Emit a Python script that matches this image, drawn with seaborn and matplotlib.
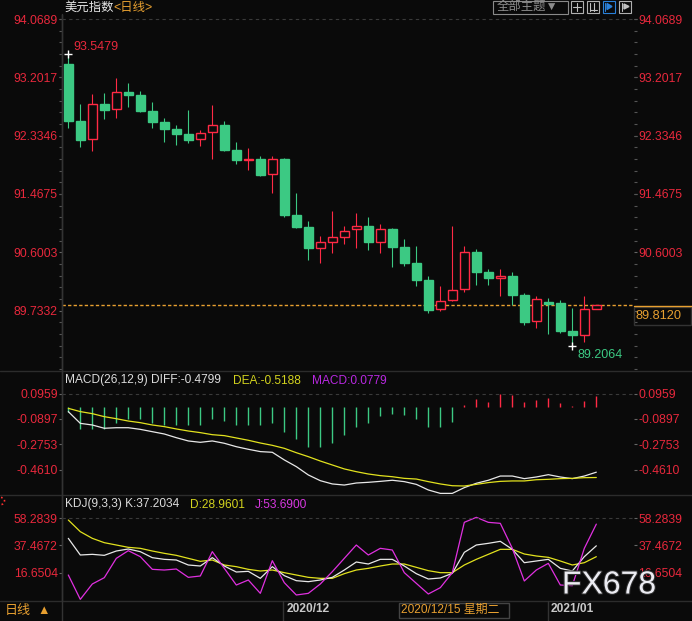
import numpy as np
import pandas as pd
import matplotlib
matplotlib.use('Agg')
import matplotlib.pyplot as plt
import seaborn as sns
from matplotlib.ticker import FixedLocator
from matplotlib.patches import Rectangle, Circle, Polygon
import matplotlib.patheffects as pe

### Data ###
opens = [93.400, 92.552, 92.280, 92.805, 92.726, 92.983, 92.939, 92.701, 92.537, 92.433,
         92.359, 92.280, 92.384, 92.493, 92.121, 91.977, 91.987, 91.759, 91.987, 91.154,
         90.976, 90.669, 90.758, 90.832, 90.941, 90.991, 90.758, 90.946, 90.679, 90.441,
         90.188, 89.752, 89.886, 90.049, 90.599, 90.307, 90.223, 90.247, 89.965, 89.573,
         89.861, 89.846, 89.430, 89.365, 89.761]
closes = [92.557, 92.275, 92.800, 92.721, 92.983, 92.944, 92.706, 92.542, 92.438, 92.364,
          92.275, 92.369, 92.488, 92.121, 91.977, 91.987, 91.754, 91.982, 91.159, 90.981,
          90.669, 90.748, 90.827, 90.912, 90.986, 90.758, 90.941, 90.684, 90.446, 90.193,
          89.747, 89.871, 90.034, 90.599, 90.312, 90.223, 90.243, 89.970, 89.568, 89.900,
          89.836, 89.435, 89.365, 89.752, 89.812]
highs = [93.5479, 92.805, 92.954, 92.974, 93.192, 93.117, 92.998, 92.835, 92.597, 92.493,
         92.716, 92.418, 92.790, 92.552, 92.235, 92.151, 92.032, 92.032, 92.002, 91.482,
         91.065, 90.842, 91.214, 90.991, 91.184, 91.125, 91.021, 90.961, 90.797, 90.694,
         90.247, 90.099, 90.991, 90.694, 90.649, 90.352, 90.352, 90.307, 89.995, 89.950,
         89.920, 89.891, 89.777, 89.950, 89.815]
lows = [92.453, 92.171, 92.111, 92.587, 92.602, 92.765, 92.691, 92.453, 92.245, 92.200,
        92.230, 92.185, 91.992, 92.106, 91.918, 91.829, 91.739, 91.487, 91.130, 90.966,
        90.490, 90.446, 90.594, 90.728, 90.669, 90.639, 90.594, 90.386, 90.401, 90.104,
        89.702, 89.732, 89.881, 90.014, 90.119, 90.119, 89.955, 89.821, 89.524, 89.479,
        89.390, 89.395, 89.2064, 89.271, 89.761]

diff = [-0.036, -0.122, -0.134, -0.158, -0.154, -0.154, -0.166, -0.183, -0.200, -0.227,
        -0.251, -0.261, -0.251, -0.268, -0.293, -0.312, -0.329, -0.334, -0.390, -0.439,
        -0.500, -0.542, -0.566, -0.574, -0.559, -0.554, -0.547, -0.539, -0.549, -0.569,
        -0.610, -0.635, -0.635, -0.593, -0.561, -0.539, -0.508, -0.508, -0.527, -0.515,
        -0.498, -0.515, -0.527, -0.508, -0.4799]
dea = [-0.012, -0.036, -0.051, -0.073, -0.088, -0.105, -0.117, -0.134, -0.146, -0.163,
       -0.178, -0.190, -0.205, -0.212, -0.229, -0.246, -0.266, -0.283, -0.305, -0.337,
       -0.366, -0.398, -0.427, -0.456, -0.476, -0.493, -0.505, -0.513, -0.525, -0.530,
       -0.549, -0.566, -0.579, -0.581, -0.569, -0.556, -0.547, -0.544, -0.544, -0.535,
       -0.532, -0.527, -0.525, -0.520, -0.5188]
macd_hist = [-0.039, -0.161, -0.161, -0.161, -0.117, -0.088, -0.088, -0.117, -0.132, -0.137,
             -0.137, -0.137, -0.088, -0.105, -0.137, -0.137, -0.137, -0.117, -0.186, -0.234,
             -0.295, -0.295, -0.264, -0.205, -0.149, -0.117, -0.068, -0.054, -0.063, -0.088,
             -0.149, -0.149, -0.112, 0.010, 0.059, 0.034, 0.090, 0.083, 0.034, 0.051,
             0.063, 0.027, 0.005, 0.042, 0.0779]

k_vals = [42.88, 30.23, 30.73, 29.97, 33.26, 34.78, 32.76, 28.20, 26.93, 26.43,
          22.63, 21.87, 28.20, 21.87, 17.31, 17.82, 12.50, 21.37, 14.53, 10.73,
          9.97, 11.24, 13.26, 18.83, 24.91, 23.39, 26.93, 26.93, 21.87, 16.05,
          12.00, 12.76, 16.30, 32.25, 37.82, 39.09, 40.61, 34.53, 24.40, 25.67,
          26.93, 20.10, 18.07, 28.96, 37.2034]
d_vals = [56.81, 47.95, 42.88, 39.59, 37.82, 36.05, 35.29, 33.26, 31.49, 29.97,
          27.69, 25.42, 26.43, 22.63, 21.37, 19.34, 18.07, 18.83, 16.81, 15.04,
          13.26, 12.50, 12.50, 16.05, 18.83, 20.10, 21.87, 23.39, 23.39, 20.86,
          18.33, 16.81, 16.81, 22.63, 26.93, 30.73, 34.53, 34.53, 30.99, 29.47,
          28.45, 25.67, 22.63, 24.40, 28.9601]
j_vals = [15.04, -3.45, 8.20, 13.01, 27.69, 33.52, 28.96, 19.34, 18.83, 19.59,
          13.26, 14.28, 32.76, 20.10, 7.44, 11.24, 1.11, 25.92, 9.21, -0.15,
          1.11, 8.20, 17.57, 27.69, 37.82, 30.23, 35.29, 34.02, 16.81, 8.71,
          0.61, 5.42, 16.81, 55.04, 58.83, 55.04, 54.28, 35.29, 10.48, 18.83,
          23.90, 7.44, 6.93, 35.29, 53.69]

price_ticks = [94.0689, 93.2017, 92.3346, 91.4675, 90.6003, 89.7332]
price_labels = ['94.0689', '93.2017', '92.3346', '91.4675', '90.6003', '89.7332']
macd_ticks = [0.0959, -0.0897, -0.2753, -0.4610]
macd_labels = ['0.0959', '-0.0897', '-0.2753', '-0.4610']
kdj_ticks = [58.2839, 37.4672, 16.6504]
kdj_labels = ['58.2839', '37.4672', '16.6504']

### Style ###
W, H = 692, 621
bg = '#0a0a0a'
red = '#ff2a45'
green = '#3cc983'
lab_red = '#e8283c'
orange = '#e8a030'
grid_c = '#3a3a3a'

sns.set_theme(style='dark', rc={'axes.facecolor': bg, 'figure.facecolor': bg})
plt.rcParams['font.family'] = ['Liberation Sans', 'Noto Sans CJK SC']
plt.rcParams['axes.unicode_minus'] = False
fs = 8.6

fig = plt.figure(figsize=(W / 100, H / 100), dpi=100)


def rect(top, bottom):
    return [62 / W, 1 - bottom / H, 572 / W, (bottom - top) / H]


ax1 = fig.add_axes(rect(15, 370))
ax2 = fig.add_axes(rect(371, 494))
ax3 = fig.add_axes(rect(495, 601))
xs = np.arange(len(opens))

#Candles
df = pd.DataFrame({'x': xs, 'open': opens, 'high': highs, 'low': lows, 'close': closes})
up = df['close'] >= df['open']
for sub, col, face in [(df[up], red, bg), (df[~up], green, green)]:
    ax1.vlines(sub['x'], sub['low'], sub['high'], color=col, lw=0.8, zorder=2)
    ax1.bar(sub['x'], sub['close'] - sub['open'], bottom=sub['open'], width=0.72,
            color=face, edgecolor=col, linewidth=1.0, zorder=3)
ax1.axhline(94.0689, color=grid_c, ls=(0, (3, 3)), lw=0.8)
ax1.axhline(closes[-1], color=orange, ls=(0, (2.4, 1.6)), lw=1.0, zorder=1)
ax1.plot(0, highs[0], marker='+', color='white', ms=6, mew=1, zorder=4)
ax1.annotate('93.5479', xy=(0, highs[0]), xytext=(3.4, 5.4), textcoords='offset points',
             color=lab_red, fontsize=fs + 0.4, va='center', ha='left')
ax1.plot(42, lows[42], marker='+', color='white', ms=6, mew=1, zorder=4)
ax1.annotate('89.2064', xy=(42, lows[42]), xytext=(3.4, -6.8), textcoords='offset points',
             color=green, fontsize=fs + 0.4, va='center', ha='left')
ax1.set_ylim(88.8496, 94.1284)

#MACD
ax2.vlines(xs, 0, macd_hist, colors=[red if v > 0 else green for v in macd_hist], lw=1.0)
sns.lineplot(x=xs, y=diff, ax=ax2, color='#e8e8e8', lw=0.9)
sns.lineplot(x=xs, y=dea, ax=ax2, color='#e2e21e', lw=0.9)
ax2.axhline(0.0959, color=grid_c, ls=(0, (3, 3)), lw=0.8)
ax2.set_ylim(-0.6396, 0.2615)

#KDJ
sns.lineplot(x=xs, y=d_vals, ax=ax3, color='#e2e21e', lw=0.9)
sns.lineplot(x=xs, y=k_vals, ax=ax3, color='#e8e8e8', lw=0.9)
sns.lineplot(x=xs, y=j_vals, ax=ax3, color='#e030e0', lw=0.9)
ax3.axhline(58.2839, color=grid_c, ls=(0, (3, 3)), lw=0.8)
ax3.set_ylim(-4.71, 75.8)

#Formatting
for a, t, l in [(ax1, price_ticks, price_labels), (ax2, macd_ticks, macd_labels), (ax3, kdj_ticks, kdj_labels)]:
    a.set_facecolor(bg)
    a.set_xlim(-0.525, 47.14)
    a.set_xticks([])
    a.set_xlabel('')
    a.set_ylabel('')
    a.set_yticks(t)
    a.set_yticklabels(l)
    a.tick_params(axis='y', which='major', left=True, right=True, labelleft=True, labelright=True,
                  length=2.2, width=0.8, color='#666666', labelcolor=lab_red, labelsize=fs + 0.2, pad=0.8)
    for s in ['top', 'bottom', 'right']:
        a.spines[s].set_visible(False)
    a.spines['left'].set_color('#333333')
    a.spines['left'].set_linewidth(1)
    a.grid(False)

ax1.yaxis.set_minor_locator(FixedLocator(np.arange(89.7332 - 5 * 0.17342, 94.2, 0.17342)))
ax1.tick_params(axis='y', which='minor', left=True, right=True, length=2.2, width=0.8, color='#555555')
for tk in ax1.yaxis.get_major_ticks():
    if abs(tk.get_loc() - 89.7332) < 1e-3:
        tk.label2.set_visible(False)

### Overlay in pixel coordinates ###
ov = fig.add_axes([0, 0, 1, 1], zorder=10)
ov.set_xlim(0, W)
ov.set_ylim(H, 0)
ov.axis('off')
ov.patch.set_alpha(0)

for y in [370.5, 494.5, 601]:
    ov.plot([0, W], [y, y], color='#2c2c2c', lw=1)
ov.plot([62.3, 62.3], [14, H], color='#333333', lw=1)
ov.plot([283.3, 283.3], [601, H], color='#333333', lw=1)
ov.plot([548.3, 548.3], [601, H], color='#333333', lw=1)

# headers
ov.text(64, 7.5, '美元指数', color='#e6e6e6', fontsize=fs + 0.3, va='center')
ov.text(113, 7.5, '<日线>', color=orange, fontsize=fs + 0.3, va='center')
ov.text(65, 380.5, 'MACD(26,12,9) DIFF:-0.4799', color='#dcdcdc', fontsize=fs, va='center')
ov.text(233, 380.5, 'DEA:-0.5188', color='#d2d21e', fontsize=fs, va='center')
ov.text(312, 380.5, 'MACD:0.0779', color='#b828e0', fontsize=fs, va='center')
ov.text(65, 504.5, 'KDJ(9,3,3) K:37.2034', color='#dcdcdc', fontsize=fs, va='center')
ov.text(190, 504.5, 'D:28.9601', color='#d2d21e', fontsize=fs, va='center')
ov.text(255, 504.5, 'J:53.6900', color='#d838e0', fontsize=fs, va='center')
ov.add_patch(Circle((1, 501), 3.5, fill=False, ec='#ff3030', lw=1.2, ls=':'))

# last price box
ov.plot([634, W], [305.5, 305.5], color=orange, lw=1)
ov.add_patch(Rectangle((634, 306.5), 57, 18, fill=False, ec='#333333', lw=1))
ov.text(636, 316, '89.8120', color=orange, fontsize=fs + 0.6, va='center')

# bottom strip
ov.text(5, 611, '日线', color=orange, fontsize=fs + 0.8, va='center')
ov.text(37, 611, '▲', color=orange, fontsize=fs + 0.5, va='center')
ov.text(287, 609.5, '2020/12', color='#c8c8c8', fontsize=fs, fontweight='bold', va='center')
ov.text(551, 609.5, '2021/01', color='#c8c8c8', fontsize=fs, fontweight='bold', va='center')
ov.add_patch(Rectangle((398.5, 602.5), 110, 15.5, fill=False, ec='#444444', lw=1))
ov.text(401, 610, '2020/12/15 星期二', color=orange, fontsize=fs, va='center')

# toolbar
ov.add_patch(Rectangle((492.5, 0.5), 75, 13, fill=False, ec='#8a8a8a', lw=0.8))
ov.text(497, 7, '全部主题▼', color='#8c8c8c', fontsize=fs + 0.3, va='center')
for x0, ec in [(570.5, '#b0b0b0'), (586.5, '#b0b0b0'), (602.5, '#2a80d8'), (618.5, '#b0b0b0')]:
    ov.add_patch(Rectangle((x0, 0.5), 12.5, 12, fill=False, ec=ec, lw=0.8))
ov.plot([573, 581], [6.5, 6.5], color='#c0c0c0', lw=0.8)
ov.plot([577, 577], [2.5, 10.5], color='#c0c0c0', lw=0.8)
ov.plot([589.5, 589.5], [2.5, 10.5], color='#c0c0c0', lw=0.8)
ov.plot([594, 594], [2.5, 10.5], color='#c0c0c0', lw=0.8)
ov.plot([589.5, 597], [10, 10], color='#c0c0c0', lw=0.8)
ov.plot([605, 605], [2.5, 10.5], color='#2a80d8', lw=0.8)
ov.add_patch(Polygon([[607, 3.5], [612, 6.5], [607, 9.5]], color='#2a80d8'))
ov.plot([621.5, 621.5], [2.5, 10.5], color='#c0c0c0', lw=0.8)
ov.add_patch(Polygon([[624, 4], [629, 6.5], [624, 9]], color='#c0c0c0'))

# watermark
ov.text(562, 585.5, 'FX678', color='#ececf2', fontsize=23, va='center', ha='left',
        path_effects=[pe.withStroke(linewidth=1.5, foreground='#303030')])

plt.savefig('out.png', dpi=100, facecolor=bg)
